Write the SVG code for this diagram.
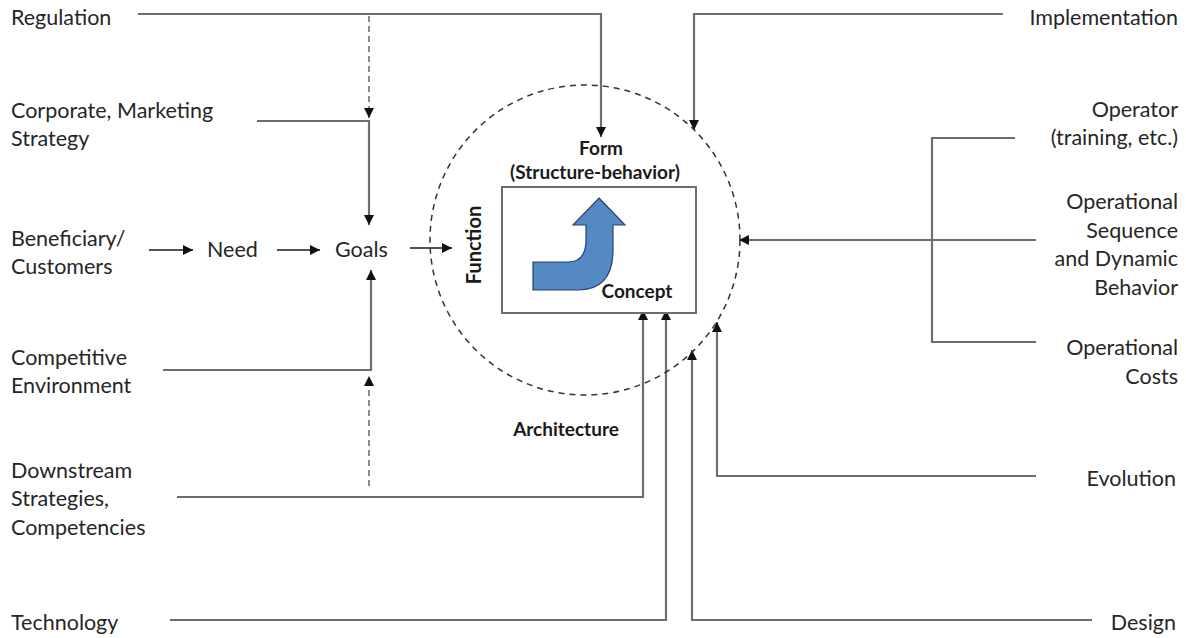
<svg xmlns="http://www.w3.org/2000/svg" width="1186" height="638" viewBox="0 0 1186 638">
<defs>
<style>
.lbl{font-family:Lato,"Open Sans","Liberation Sans",sans-serif;font-size:21.5px;fill:#262626}
.r{text-anchor:end}
.b{font-family:Lato,"Open Sans","Liberation Sans",sans-serif;font-size:19px;font-weight:bold;fill:#1a1a1a;text-anchor:middle}
.ln{fill:none;stroke:#6e6e6e;stroke-width:2.2}
.ar{fill:none;stroke:#1a1a1a;stroke-width:1.6}
.dash{fill:none;stroke:#8a8a8a;stroke-width:2;stroke-dasharray:6 4}
</style>
<marker id="ah" viewBox="0 0 10 10" refX="10" refY="5" markerWidth="10" markerHeight="10" markerUnits="userSpaceOnUse" orient="auto">
<path d="M0,0 L10,5 L0,10 Z" fill="#111"/>
</marker>
</defs>
<rect width="1186" height="638" fill="#fff"/>

<g id="connectors">
<path class="ln" d="M138,14 H601 V137" marker-end="url(#ah)"/>
<path class="dash" d="M369,16 V118" marker-end="url(#ah)"/>
<path class="ln" d="M257,121 H369 V225" marker-end="url(#ah)"/>
<path class="ar" d="M149,250 H193" marker-end="url(#ah)"/>
<path class="ar" d="M277,250 H320" marker-end="url(#ah)"/>
<path class="ar" d="M410,248 H452" marker-end="url(#ah)"/>
<path class="ln" d="M163,370 H371 V270" marker-end="url(#ah)"/>
<path class="dash" d="M369,486 V376" marker-end="url(#ah)"/>
<path class="ln" d="M177,497 H643 V310" marker-end="url(#ah)"/>
<path class="ln" d="M170,620 H666 V310" marker-end="url(#ah)"/>
<path class="ln" d="M1092,620 H692 V350" marker-end="url(#ah)"/>
<path class="ln" d="M1036,476 H717 V322" marker-end="url(#ah)"/>
<path class="ln" d="M1015,138 H932 V342 H1036"/>
<path class="ln" d="M1036,240 H739" marker-end="url(#ah)"/>
<path class="ln" d="M1003,14 H694 V130" marker-end="url(#ah)"/>
</g>

<g id="architecture">
<circle cx="585" cy="240" r="155" fill="none" stroke="#333" stroke-width="1.5" stroke-dasharray="6 5"/>
<text class="b" x="566" y="436">Architecture</text>
</g>

<g id="concept">
<rect x="502" y="187" width="194" height="126" fill="#fff" stroke="#6e6e6e" stroke-width="2"/>
<path d="M599,198 L625,225 L613,225 L613,250 Q613,290 578,290 L533,290 L533,262 L568,262 Q586,262 586,240 L586,225 L573,225 Z" fill="#5589c4" stroke="#24456e" stroke-width="1.2"/>
<text class="b" x="637" y="298">Concept</text>
</g>

<g id="form"><text class="b" x="601" y="155">Form</text><text class="b" x="595" y="179">(Structure-behavior)</text></g>
<g id="function"><text class="b" style="font-size:20px" transform="translate(481,245) rotate(-90)">Function</text></g>

<g id="regulation"><text class="lbl" x="11" y="25">Regulation</text></g>
<g id="corporate"><text class="lbl" x="11" y="118">Corporate, Marketing</text><text class="lbl" x="11" y="146">Strategy</text></g>
<g id="beneficiary"><text class="lbl" x="11" y="246">Beneficiary/</text><text class="lbl" x="11" y="274">Customers</text></g>
<g id="need"><text class="lbl" x="207" y="257">Need</text></g>
<g id="goals"><text class="lbl" x="335" y="257">Goals</text></g>
<g id="competitive"><text class="lbl" x="11" y="365">Competitive</text><text class="lbl" x="11" y="393">Environment</text></g>
<g id="downstream"><text class="lbl" x="11" y="478">Downstream</text><text class="lbl" x="11" y="506">Strategies,</text><text class="lbl" x="11" y="535">Competencies</text></g>
<g id="technology"><text class="lbl" x="11" y="630">Technology</text></g>

<g id="implementation"><text class="lbl r" x="1178" y="25">Implementation</text></g>
<g id="operator"><text class="lbl r" x="1178" y="117">Operator</text><text class="lbl r" x="1178" y="145">(training, etc.)</text></g>
<g id="opseq"><text class="lbl r" x="1178" y="209">Operational</text><text class="lbl r" x="1178" y="238">Sequence</text><text class="lbl r" x="1178" y="266">and Dynamic</text><text class="lbl r" x="1178" y="295">Behavior</text></g>
<g id="opcosts"><text class="lbl r" x="1178" y="355">Operational</text><text class="lbl r" x="1178" y="384">Costs</text></g>
<g id="evolution"><text class="lbl r" x="1176" y="486">Evolution</text></g>
<g id="design"><text class="lbl r" x="1176" y="630">Design</text></g>
</svg>
